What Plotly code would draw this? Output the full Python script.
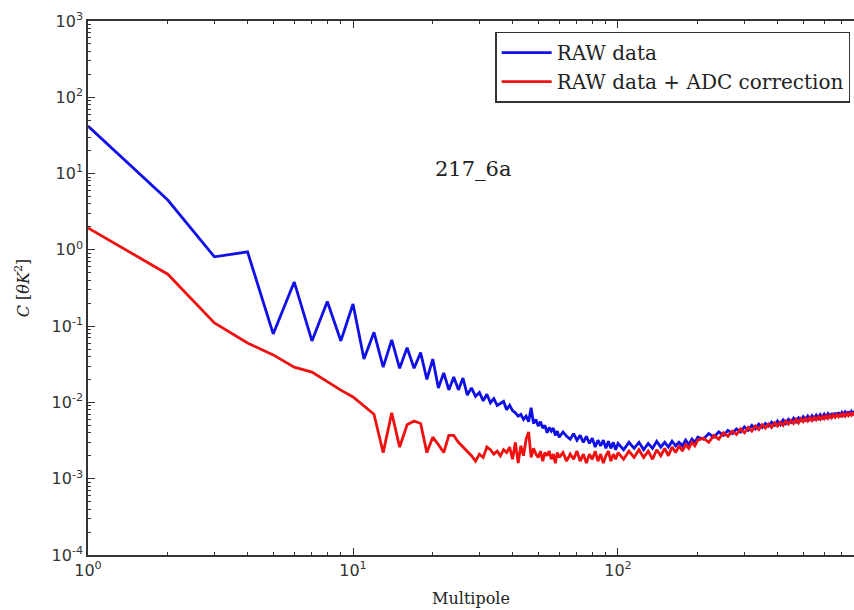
import plotly.graph_objects as go

# Multipole values (ell) for the sampled points
ell = list(range(1, 61)) + list(range(62, 101, 2)) + list(range(105, 201, 5)) + list(range(210, 781, 10))

raw = [
    42, 4.5, 0.81, 0.94, 0.079, 0.38, 0.064, 0.21, 0.064, 0.195,
    0.037, 0.083, 0.029, 0.066, 0.028, 0.052, 0.028, 0.045, 0.020, 0.037,
    0.0155, 0.0244, 0.0146, 0.0216, 0.0146, 0.0209, 0.0125, 0.0155, 0.012, 0.0135,
    0.0105, 0.0128, 0.0099, 0.0112, 0.0091, 0.0098, 0.0103, 0.0080, 0.0092, 0.0078,
    0.0073, 0.0066, 0.0070, 0.0060, 0.0066, 0.0056, 0.0085, 0.0053, 0.0060, 0.0049,
    0.0056, 0.0046, 0.0050, 0.0040, 0.0047, 0.0042, 0.0046, 0.0037, 0.0042, 0.0035,
    # 62..100 step 2
    0.0041, 0.0036, 0.0033, 0.0039, 0.0032, 0.0037, 0.0030, 0.0036, 0.0029, 0.0034,
    0.0026, 0.0032, 0.0027, 0.0032, 0.0025, 0.0031, 0.0025, 0.0030, 0.0024, 0.0029,
    # 105..200 step 5
    0.0024, 0.0030, 0.0025, 0.0030, 0.0024, 0.0029, 0.0025, 0.0031, 0.0026, 0.0030,
    0.0026, 0.0031, 0.0027, 0.0030, 0.0027, 0.0032, 0.0028, 0.0033, 0.0030, 0.0035,
    # 210..780 step 10
    0.0033, 0.0039, 0.0035, 0.0041, 0.0037, 0.0043, 0.0039, 0.0045, 0.0041, 0.0048,
    0.0043, 0.0050, 0.0045, 0.0052, 0.0047, 0.0053, 0.0049, 0.0055, 0.0050, 0.0057,
    0.0051, 0.0059, 0.0053, 0.0060, 0.0055, 0.0062, 0.0056, 0.0063, 0.0058, 0.0065,
    0.0059, 0.0066, 0.0060, 0.0067, 0.0061, 0.0068, 0.0062, 0.0069, 0.0063, 0.0070,
    0.0064, 0.0071, 0.0065, 0.0072, 0.0066, 0.0073, 0.0067, 0.0074, 0.0068, 0.0074,
    0.0069, 0.0075, 0.0069, 0.0076, 0.0070, 0.0076, 0.0071, 0.0077,
]

raw_adc = [
    1.94, 0.48, 0.11, 0.060, 0.042, 0.029, 0.025, 0.0185, 0.0145, 0.0118,
    0.0090, 0.0070, 0.0022, 0.0073, 0.0026, 0.0051, 0.0057, 0.0053, 0.0022, 0.0035,
    0.0028, 0.0022, 0.0037, 0.0037, 0.0030, 0.0026, 0.0023, 0.0020, 0.0017, 0.0021,
    0.0019, 0.0026, 0.0024, 0.0021, 0.0023, 0.0020, 0.0024, 0.0022, 0.0026, 0.0018,
    0.0030, 0.0016, 0.0027, 0.0020, 0.0033, 0.0041, 0.0019, 0.0025, 0.0021, 0.0019,
    0.0023, 0.0017, 0.0022, 0.0020, 0.0023, 0.0018, 0.0021, 0.0016, 0.0022, 0.0019,
    # 62..100 step 2
    0.0022, 0.0017, 0.0021, 0.0018, 0.0023, 0.0017, 0.0021, 0.0016, 0.0021, 0.0018,
    0.0023, 0.0017, 0.0021, 0.0016, 0.0020, 0.0023, 0.0017, 0.0021, 0.0018, 0.0022,
    # 105..200 step 5
    0.0018, 0.0023, 0.0019, 0.0024, 0.0019, 0.0023, 0.0018, 0.0024, 0.0020, 0.0025,
    0.0020, 0.0026, 0.0022, 0.0027, 0.0023, 0.0028, 0.0025, 0.0030, 0.0027, 0.0032,
    # 210..780 step 10
    0.0034, 0.0030, 0.0037, 0.0033, 0.0040, 0.0036, 0.0042, 0.0038, 0.0045, 0.0040,
    0.0047, 0.0042, 0.0049, 0.0044, 0.0051, 0.0046, 0.0052, 0.0047, 0.0054, 0.0049,
    0.0055, 0.0050, 0.0057, 0.0052, 0.0058, 0.0053, 0.0060, 0.0054, 0.0061, 0.0056,
    0.0062, 0.0057, 0.0063, 0.0058, 0.0064, 0.0059, 0.0065, 0.0060, 0.0066, 0.0061,
    0.0067, 0.0062, 0.0068, 0.0063, 0.0069, 0.0064, 0.0069, 0.0065, 0.0070, 0.0066,
    0.0071, 0.0066, 0.0071, 0.0067, 0.0072, 0.0068, 0.0072, 0.0069,
]

x_tickvals = [1, 10, 100]
x_ticktext = ["10<sup>0</sup>", "10<sup>1</sup>", "10<sup>2</sup>"]
y_tickvals = [1e-4, 1e-3, 1e-2, 1e-1, 1, 10, 100, 1000]
y_ticktext = ["10<sup>-4</sup>", "10<sup>-3</sup>", "10<sup>-2</sup>", "10<sup>-1</sup>",
              "10<sup>0</sup>", "10<sup>1</sup>", "10<sup>2</sup>", "10<sup>3</sup>"]

fig = go.Figure()
fig.add_trace(go.Scatter(x=ell, y=raw, mode="lines", name="RAW data",
                         line=dict(color="#1010e6", width=2.8)))
fig.add_trace(go.Scatter(x=ell, y=raw_adc, mode="lines", name="RAW data + ADC correction",
                         line=dict(color="#f01010", width=2.8)))

axis_common = dict(
    ticks="inside", ticklen=7, tickwidth=1, tickcolor="#333",
    showline=True, linecolor="#333", linewidth=1.5,
    showgrid=False, zeroline=False,
    tickfont=dict(family="DejaVu Sans", size=16, color="#333"),
    minor=dict(ticks="inside", ticklen=3, tickcolor="#333", dtick="D1", showgrid=False),
)

fig.update_xaxes(type="log", range=[0, 2.8906], tickvals=x_tickvals, ticktext=x_ticktext,
                 mirror="ticks",
                 title=dict(text="Multipole", font=dict(family="DejaVu Serif", size=16, color="#222"),
                            standoff=14),
                 **axis_common)
fig.update_yaxes(type="log", range=[-4, 3], tickvals=y_tickvals, ticktext=y_ticktext,
                 title=dict(text="<i>C</i> [<i>θK</i><sup>2</sup>]",
                            font=dict(family="DejaVu Serif", size=16, color="#222"),
                            standoff=18),
                 **axis_common)

fig.add_annotation(text="217_6a", x=0.503, y=0.75, xref="paper", yref="paper",
                   showarrow=False, font=dict(family="DejaVu Serif", size=21, color="#222"))

fig.update_layout(
    width=854, height=610,
    margin=dict(l=88, r=0, t=21, b=55),
    plot_bgcolor="white", paper_bgcolor="white",
    showlegend=True,
    legend=dict(x=0.995, y=0.98, xanchor="right", yanchor="top",
                bgcolor="white", bordercolor="#333", borderwidth=1.5,
                font=dict(family="DejaVu Serif", size=20, color="#222"),
                itemwidth=50, tracegroupgap=0),
)

fig.write_html("out.html")
